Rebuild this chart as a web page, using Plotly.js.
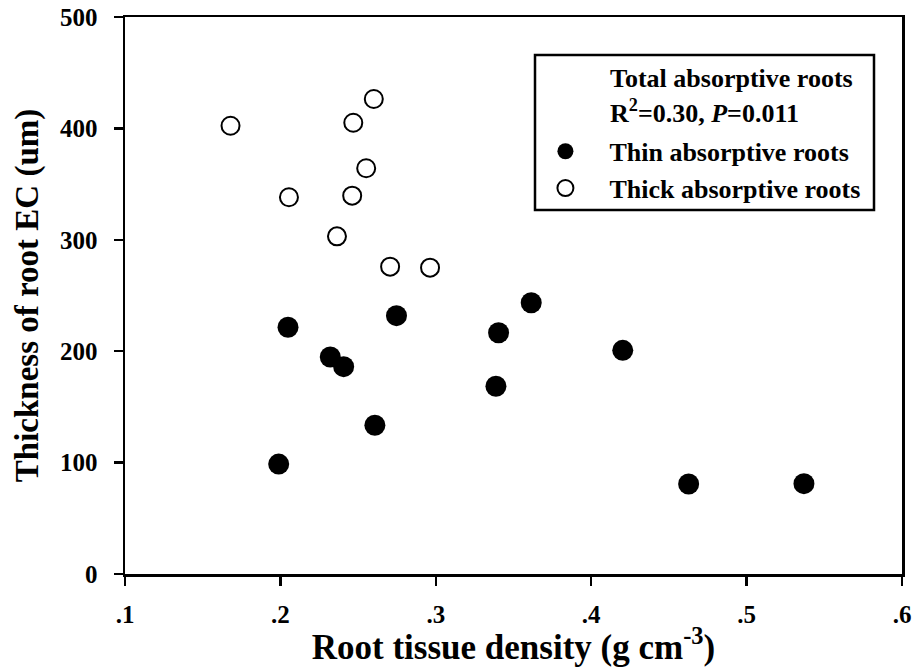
<!DOCTYPE html>
<html>
<head>
<meta charset="utf-8">
<script src="https://cdn.plot.ly/plotly-3.0.1.min.js"></script>
<style>
html,body{margin:0;padding:0;background:#fff;}
#chart{width:914px;height:667px;}
</style>
</head>
<body>
<div id="chart"></div>
<script>
// Thin absorptive roots (filled)
const thinX = [0.2049, 0.2321, 0.2407, 0.2747, 0.2608, 0.1989, 0.3404, 0.3614, 0.3387, 0.4203, 0.4627, 0.5369];
const thinY = [221.5, 194.8, 186.1, 231.9, 133.5, 98.7, 216.6, 243.5, 168.5, 200.8, 80.8, 81.1];
// Thick absorptive roots (open)
const thickX = [0.1679, 0.2601, 0.2469, 0.2552, 0.2055, 0.2462, 0.2364, 0.2706, 0.2963];
const thickY = [402.4, 426.4, 405.1, 364.2, 338.2, 339.6, 303.1, 275.9, 275.0];

const xTickVals = [0.1, 0.2, 0.3, 0.4, 0.5, 0.6];
const xTickText = ['.1', '.2', '.3', '.4', '.5', '.6'];
const yTickVals = [0, 100, 200, 300, 400, 500];
const yTickText = ['0', '100', '200', '300', '400', '500'];

const FONT = 'Liberation Serif, Times New Roman, serif';

const traces = [
  {
    x: thinX, y: thinY, type: 'scatter', mode: 'markers',
    name: 'Thin absorptive roots', legendgroup: 'a',
    marker: {symbol: 'circle', size: 21, color: '#000', line: {width: 0}}
  },
  {
    x: thickX, y: thickY, type: 'scatter', mode: 'markers',
    name: 'Thick absorptive roots', legendgroup: 'b',
    marker: {symbol: 'circle-open', size: 18, color: '#000', line: {width: 2, color: '#000'}}
  }
];

const layout = {
  width: 914, height: 667,
  margin: {l: 125, r: 12, t: 17, b: 93},
  paper_bgcolor: '#fff', plot_bgcolor: '#fff',
  font: {family: FONT, color: '#000', size: 22, weight: 'bold'},
  showlegend: true,
  legend: {
    x: 0.5102, y: 0.801, xanchor: 'left', yanchor: 'top',
    bgcolor: 'rgba(0,0,0,0)', borderwidth: 0,
    font: {family: FONT, size: 26, color: '#000', weight: 'bold'},
    itemwidth: 78, tracegroupgap: 0
  },
  xaxis: {
    range: [0.1, 0.6], tickvals: xTickVals, ticktext: xTickText,
    showgrid: false, zeroline: false,
    showline: true, linewidth: 2.5, linecolor: '#000', mirror: true,
    ticks: 'outside', ticklen: 9, tickwidth: 2.5, tickcolor: '#000',
    tickfont: {family: FONT, size: 25, color: '#000', weight: 'bold'},
    ticklabelstandoff: 7,
    title: {text: 'Root tissue density (g cm<sup>-3</sup>)', standoff: 0,
            font: {family: FONT, size: 35, color: '#000', weight: 'bold'}}
  },
  yaxis: {
    range: [0, 500], tickvals: yTickVals, ticktext: yTickText,
    showgrid: false, zeroline: false,
    showline: true, linewidth: 2.5, linecolor: '#000', mirror: true,
    ticks: 'outside', ticklen: 9, tickwidth: 2.5, tickcolor: '#000',
    tickfont: {family: FONT, size: 25, color: '#000', weight: 'bold'},
    ticklabelstandoff: 11,
    title: {text: 'Thickness of root EC (um)', standoff: 12,
            font: {family: FONT, size: 33, color: '#000', weight: 'bold'}}
  },
  shapes: [
    {type: 'rect', xref: 'paper', yref: 'paper',
     x0: (535 - 125) / 777, x1: (874 - 125) / 777,
     y0: (574 - 210) / 557, y1: (574 - 55) / 557,
     line: {color: '#000', width: 2.5}, fillcolor: 'rgba(0,0,0,0)'}
  ],
  annotations: [
    {xref: 'paper', yref: 'paper', x: (608 - 125) / 777, y: (574 - 78) / 557,
     xanchor: 'left', yanchor: 'middle', showarrow: false,
     text: 'Total absorptive roots',
     font: {family: FONT, size: 26, color: '#000', weight: 'bold'}},
    {xref: 'paper', yref: 'paper', x: (608 - 125) / 777, y: (574 - 112) / 557,
     xanchor: 'left', yanchor: 'middle', showarrow: false,
     text: 'R<sup>2</sup>=0.30, <i>P</i>=0.011',
     font: {family: FONT, size: 26, color: '#000', weight: 'bold'}}
  ]
};

Plotly.newPlot('chart', traces, layout, {displayModeBar: false, staticPlot: true});
</script>
</body>
</html>
